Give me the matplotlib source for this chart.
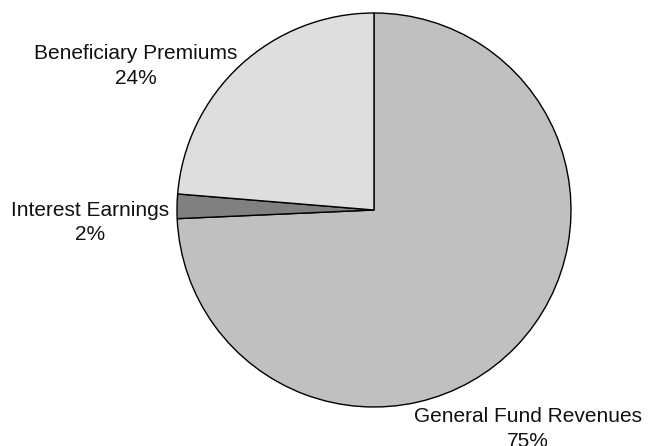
import matplotlib
matplotlib.use('Agg')
from matplotlib import pyplot as plt

# data
categories = ['General Fund Revenues', 'Interest Earnings', 'Beneficiary Premiums']
shares = [74.3, 2.0, 23.7]
pct_labels = ['75%', '2%', '24%']
colors = ['#c0c0c0', '#808080', '#dedede']

plt.rcParams['font.family'] = ['Liberation Sans', 'DejaVu Sans']

W, H = 649, 446
fig = plt.figure(figsize=(W / 100, H / 100), dpi=100)
ax = fig.add_axes([0, 0, 1, 1])

ax.pie(shares, colors=colors, startangle=90, counterclock=False,
       center=(374, 236), radius=197, frame=True,
       wedgeprops=dict(edgecolor='black', linewidth=1.0))
ax.axis('off')
ax.set_xlim(0, W)
ax.set_ylim(0, H)
ax.set_aspect('equal')

# label spots (pixel coords, y up)
label_pos = [(528, 17), (90, 223.5), (136, 380)]
for name, pct, (x, y) in zip(categories, pct_labels, label_pos):
    ax.text(x, y, name + '\n' + pct, ha='center', va='center',
            fontsize=15, linespacing=1.4, color='#111111')

fig.savefig('out.png', dpi=100)
